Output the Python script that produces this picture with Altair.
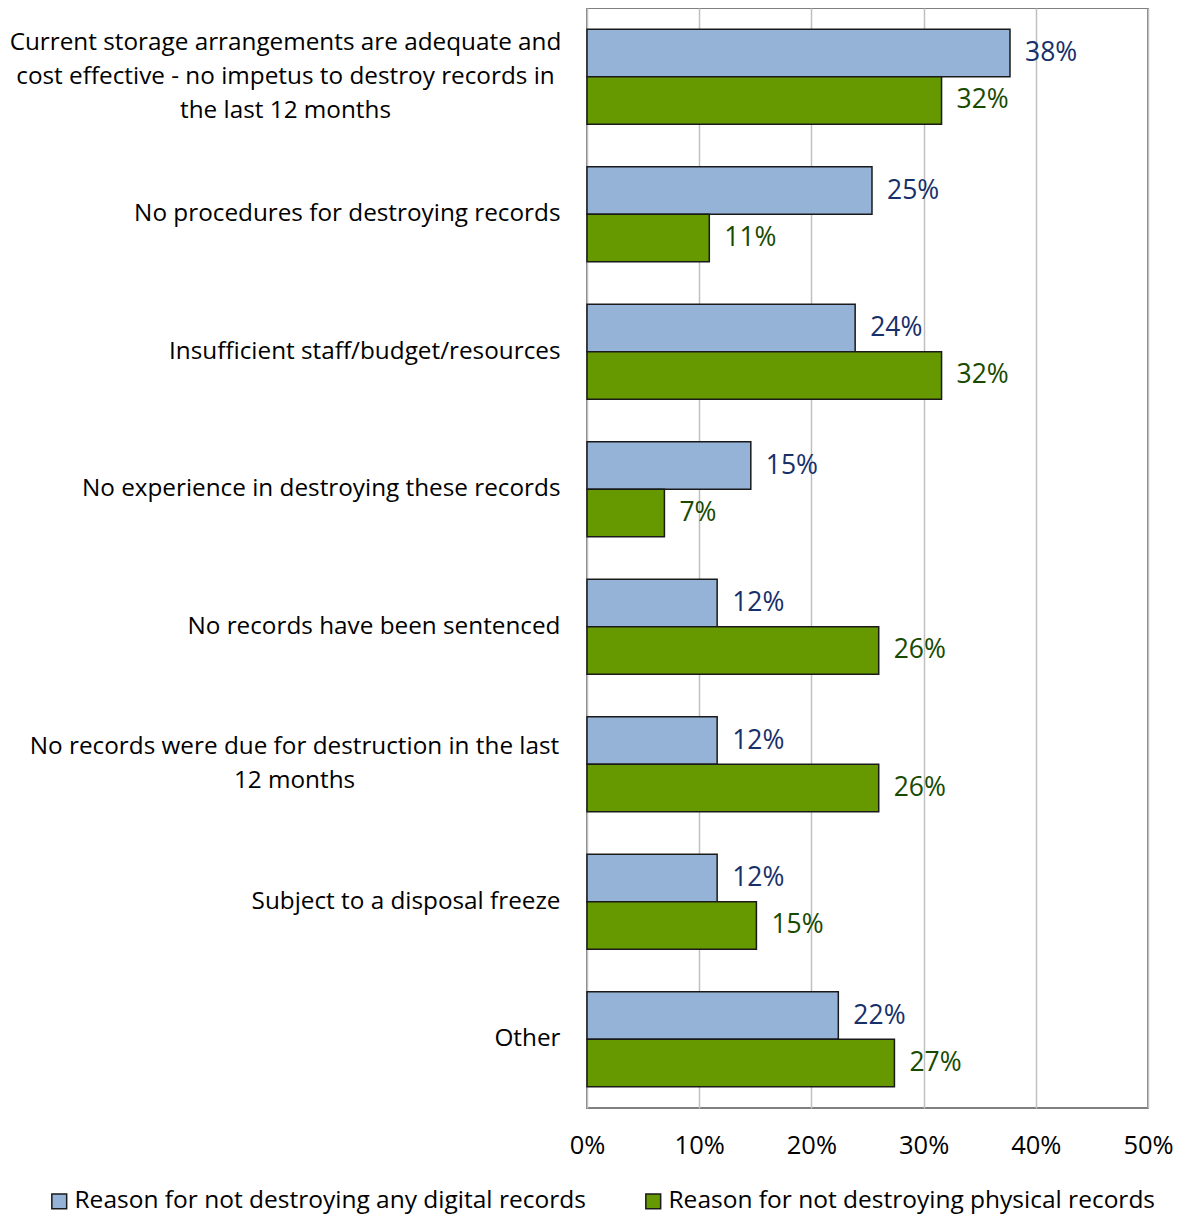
import altair as alt
import pandas as pd

categories = [
    "Current storage arrangements are adequate and|cost effective - no impetus to destroy records in|the last 12 months",
    "No procedures for destroying records",
    "Insufficient staff/budget/resources",
    "No experience in destroying these records",
    "No records have been sentenced",
    "No records were due for destruction in the last|12 months",
    "Subject to a disposal freeze",
    "Other",
]
series_names = [
    "Reason for not destroying any digital records",
    "Reason for not destroying physical records",
]
digital = [0.377, 0.254, 0.239, 0.146, 0.116, 0.116, 0.116, 0.224]
physical = [0.316, 0.109, 0.316, 0.069, 0.260, 0.260, 0.151, 0.274]

rows = []
for c, d, p in zip(categories, digital, physical):
    rows.append({"category": c, "series": series_names[0], "value": d})
    rows.append({"category": c, "series": series_names[1], "value": p})
df = pd.DataFrame(rows)

FONT = "Open Sans"
TXT = 24.3
NUM = 26.5

nlines = "length(split(datum.label, '|'))"
label_offset = {
    "condition": [
        {"test": nlines + " == 3", "value": -34},
        {"test": nlines + " == 2", "value": -17},
    ],
    "value": 0,
}
label_align = {
    "condition": {"test": nlines + " > 1", "value": "center"},
    "value": "right",
}
label_padding = {
    "condition": [
        {"test": nlines + " == 3", "value": 302},
        {"test": nlines + " == 2", "value": 293},
    ],
    "value": 27,
}

y_enc = alt.Y(
    "category:N",
    sort=categories,
    scale=alt.Scale(paddingInner=0.31, paddingOuter=0.155),
    axis=alt.Axis(
        title=None,
        labelExpr="split(datum.label, '|')",
        labelFont=FONT,
        labelFontSize=TXT,
        labelColor="#000000",
        labelLimit=1000,
        labelLineHeight=34,
        labelPadding=label_padding,
        labelAlign=label_align,
        labelOffset=label_offset,
        ticks=False,
        domain=False,
        grid=False,
    ),
)
x_enc = alt.X(
    "value:Q",
    scale=alt.Scale(domain=[0, 0.5], nice=False),
    axis=alt.Axis(
        title=None,
        values=[0, 0.1, 0.2, 0.3, 0.4, 0.5],
        format=".0%",
        labelFont=FONT,
        labelFontSize=25.5,
        labelColor="#000000",
        labelPadding=25,
        labelFlush=False,
        ticks=False,
        domain=False,
        grid=True,
        gridColor="#C0C0C0",
        gridWidth=1.5,
    ),
)
yoff = alt.YOffset("series:N", sort=series_names)

bars = alt.Chart(df).mark_bar(stroke="#1a1a1a", strokeWidth=1.5).encode(
    x=x_enc,
    y=y_enc,
    yOffset=yoff,
    color=alt.Color(
        "series:N",
        sort=series_names,
        scale=alt.Scale(domain=series_names, range=["#95B3D7", "#669900"]),
        legend=alt.Legend(
            title=None,
            orient="none",
            legendX=-540,
            legendY=1181,
            direction="horizontal",
            symbolType="square",
            symbolSize=220,
            symbolStrokeColor="#1a1a1a",
            symbolStrokeWidth=1.5,
            labelFont=FONT,
            labelFontSize=24.5,
            labelColor="#000000",
            labelLimit=1000,
            columnPadding=55,
            labelOffset=3,
        ),
    ),
)

labels = alt.Chart(df).transform_calculate(
    label="format(datum.value, '.0%')"
).mark_text(align="left", baseline="middle", dx=15, font=FONT, fontSize=NUM).encode(
    x=alt.X("value:Q"),
    y=alt.Y("category:N", sort=categories),
    yOffset=yoff,
    text="label:N",
    color=alt.when(alt.datum.series == series_names[0])
    .then(alt.value("#17306A"))
    .otherwise(alt.value("#184A00")),
)

chart = (
    alt.layer(bars, labels)
    .properties(
        width=561,
        height=1100,
        autosize=alt.AutoSizeParams(type="none"),
        padding={"left": 579, "top": 0, "right": 26, "bottom": 110},
    )
    .configure_view(stroke="#808080", strokeWidth=2)
)

chart.save("out.html", embed_options={"renderer": "svg", "actions": False})
